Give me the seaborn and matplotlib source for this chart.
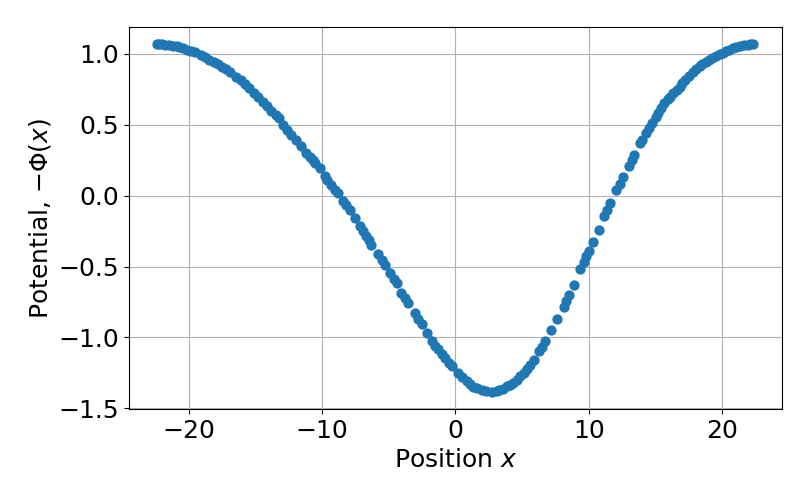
import matplotlib
matplotlib.use("Agg")
import matplotlib.pyplot as plt
import seaborn as sns
import numpy as np

plt.rcParams['font.family'] = 'DejaVu Sans'
plt.rcParams['font.size'] = 18

# positions and potential values
x_pos = [-22.35, -22.22, -22.0, -21.8, -21.47, -21.2, -20.9, -20.71, -20.4, -20.1,
         -19.83, -19.5, -19.1, -18.8, -18.46, -18.1, -17.8, -17.48, -17.2, -16.9,
         -16.45, -16.1, -15.8, -15.45, -15.1, -14.8, -14.45, -14.1, -13.8, -13.44,
         -13.2, -12.95, -12.6, -12.3, -11.94, -11.6, -11.19, -10.9, -10.69, -10.5,
         -10.19, -9.81, -9.6, -9.31, -9.0, -8.81, -8.44, -8.2, -7.93, -7.56,
         -7.18, -6.9, -6.68, -6.5, -6.30, -5.80, -5.5, -5.30, -4.92, -4.6,
         -4.42, -4.05, -3.8, -3.55, -3.05, -2.8, -2.54, -2.17, -1.79, -1.5,
         -1.29, -1.0, -0.79, -0.5, -0.29, 0.21, 0.5, 0.84, 1.1, 1.34,
         1.6, 1.97, 2.3, 2.72, 3.1, 3.3, 3.59, 3.9, 4.1, 4.35,
         4.6, 4.85, 5.1, 5.35, 5.6, 5.85, 6.23, 6.45, 6.73, 7.16,
         7.61, 8.11, 8.3, 8.48, 8.86, 9.36, 9.6, 9.81, 10.0, 10.32,
         10.74, 11.11, 11.35, 11.62, 12.07, 12.3, 12.57, 12.99, 13.2, 13.37,
         13.87, 14.0, 14.25, 14.5, 14.75, 15.0, 15.17, 15.4, 15.62, 15.9,
         16.08, 16.3, 16.58, 16.8, 17.01, 17.2, 17.50, 17.8, 18.01, 18.3,
         18.51, 18.8, 19.01, 19.2, 19.51, 19.8, 20.02, 20.3, 20.51, 20.8,
         21.02, 21.3, 21.64, 21.9, 22.1, 22.27]
neg_phi = [1.071, 1.070, 1.068, 1.066, 1.063, 1.058, 1.054, 1.051, 1.040, 1.030,
           1.023, 1.012, 0.993, 0.978, 0.958, 0.944, 0.928, 0.911, 0.895, 0.872,
           0.840, 0.815, 0.790, 0.758, 0.725, 0.695, 0.664, 0.632, 0.600, 0.570,
           0.545, 0.500, 0.462, 0.430, 0.394, 0.350, 0.301, 0.274, 0.254, 0.230,
           0.195, 0.136, 0.110, 0.077, 0.042, 0.019, -0.040, -0.068, -0.099, -0.157,
           -0.216, -0.250, -0.287, -0.310, -0.345, -0.415, -0.457, -0.486, -0.544, -0.590,
           -0.615, -0.685, -0.720, -0.756, -0.826, -0.868, -0.908, -0.967, -1.026, -1.060,
           -1.085, -1.120, -1.143, -1.180, -1.202, -1.249, -1.280, -1.308, -1.330, -1.347,
           -1.358, -1.371, -1.378, -1.382, -1.378, -1.372, -1.361, -1.345, -1.335, -1.319,
           -1.297, -1.273, -1.250, -1.225, -1.195, -1.160, -1.096, -1.065, -1.026, -0.951,
           -0.873, -0.784, -0.745, -0.702, -0.627, -0.516, -0.470, -0.427, -0.390, -0.329,
           -0.239, -0.146, -0.100, -0.051, 0.037, 0.080, 0.132, 0.211, 0.255, 0.289,
           0.371, 0.390, 0.442, 0.475, 0.512, 0.555, 0.582, 0.620, 0.653, 0.680,
           0.699, 0.722, 0.746, 0.770, 0.798, 0.818, 0.845, 0.875, 0.892, 0.915,
           0.930, 0.946, 0.958, 0.970, 0.986, 0.998, 1.009, 1.020, 1.028, 1.040,
           1.047, 1.054, 1.061, 1.064, 1.067, 1.068]

fig = plt.figure(figsize=(8.09, 5.0), dpi=100)
ax = fig.add_axes([0.159, 0.182, 0.808, 0.764])

sns.scatterplot(x=x_pos, y=neg_phi, ax=ax, color='#1f77b4', s=55, linewidth=0, zorder=3)

ax.set_xticks([-20, -10, 0, 10, 20])
ax.set_yticks([-1.5, -1.0, -0.5, 0.0, 0.5, 1.0])
ax.set_yticklabels([f"{v:.1f}".replace("-", "\u2212") for v in [-1.5, -1.0, -0.5, 0.0, 0.5, 1.0]])
ax.set_xlim(-24.5, 24.5)
ax.set_ylim(-1.505, 1.19)
ax.grid(True, color='#b0b0b0', linewidth=0.8)
ax.set_axisbelow(True)
ax.tick_params(labelsize=18)

ax.set_xlabel('Position $x$', fontsize=18)
ax.set_ylabel(r'Potential, $-\Phi(x)$', fontsize=18)

fig.savefig('out.png', dpi=100)
